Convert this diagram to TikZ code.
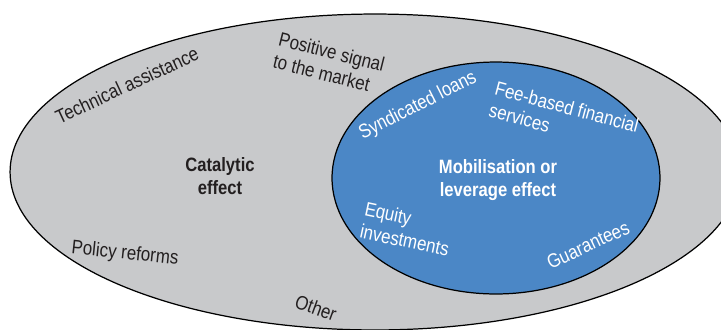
\documentclass[tikz,border=0pt]{standalone}
\usepackage{fontspec}
\setmainfont{Liberation Sans}[FakeStretch=0.86]
\usetikzlibrary{shapes, positioning}

\definecolor{catalyticGray}{HTML}{C8C9CB}
\definecolor{leverageBlue}{HTML}{4B87C6}
\definecolor{labelInk}{HTML}{231F20}

\tikzstyle{catalyticArea} = [ellipse,
                             minimum width=14.6cm,
                             minimum height=6.32cm,
                             draw=black,
                             line width=0.7pt,
                             fill=catalyticGray]
\tikzstyle{leverageArea}  = [ellipse,
                             minimum width=6.56cm,
                             minimum height=4.64cm,
                             draw=black,
                             line width=0.7pt,
                             fill=leverageBlue]
\tikzstyle{outerLabel}    = [text=labelInk,
                             inner sep=0pt,
                             align=left,
                             font=\fontsize{11.2}{13}\selectfont]
\tikzstyle{innerLabel}    = [text=white,
                             inner sep=0pt,
                             align=left,
                             font=\fontsize{11.2}{13}\selectfont]
\tikzstyle{effectTitle}   = [inner sep=0pt,
                             align=center,
                             font=\fontsize{11}{13}\selectfont\bfseries]

\begin{document}
\begin{tikzpicture}[x=0.02cm, y=-0.02cm]
\useasboundingbox (0,0) rectangle (721,329);
\clip (0,0) rectangle (721,329);

\node [catalyticArea] (catalytic) at (375,172) {};
\node [leverageArea]  (leverage)  at (496,178) {};

% labels in the grey ring
\node [effectTitle, text=labelInk] (catalyticTitle) at (220,176) {Catalytic\\effect};
\node [outerLabel, rotate=25]  (techAssist) at (127,85)  {Technical assistance};
\node [outerLabel, rotate=-14] (posSignal)  at (329,63)  {Positive signal\\to the market};
\node [outerLabel, rotate=-6]  (policy)     at (125,254) {Policy reforms};
\node [outerLabel, rotate=-20] (other)      at (316,308) {Other};

% labels in the blue core
\node [effectTitle, text=white] (leverageTitle) at (498,180) {Mobilisation or\\leverage effect};
\node [innerLabel, rotate=27]  (syndicated) at (418,106) {Syndicated loans};
\node [innerLabel, rotate=-15] (feeBased)   at (564,118) {Fee-based financial\\services};
\node [innerLabel, rotate=-12] (equity)     at (407,229) {Equity\\investments};
\node [innerLabel, rotate=25]  (guarantees) at (588,245) {Guarantees};

\end{tikzpicture}
\end{document}
